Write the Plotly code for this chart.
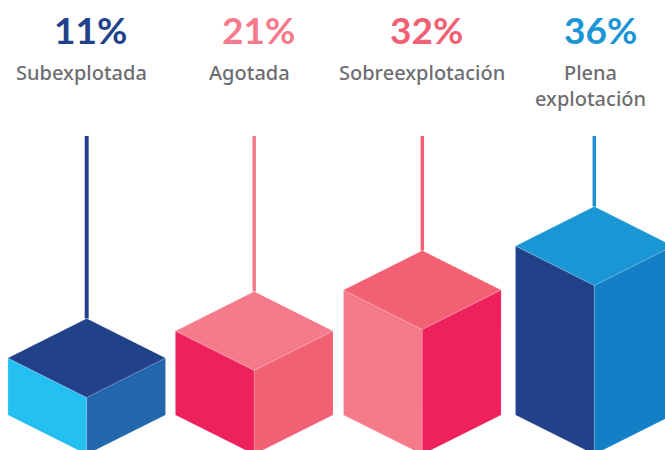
import plotly.graph_objects as go

# Data
categories = ["Subexplotada", "Agotada", "Sobreexplotación", "Plena<br>explotación"]
percent_labels = ["11%", "21%", "32%", "36%"]
box_heights = [57, 84, 125, 169]  # drawn height of each column
stem_top = 279

# Position along the x axis and styling
centers = [86.7, 254.2, 422.3, 594.3]
pct_x = [90.5, 258.3, 426.2, 600]
label_x = [81.5, 249.2, 422, 590.7]
half_w = 78.8
half_h = 39.4
top_colors = ["#21428b", "#f47a8c", "#f26073", "#1a96d5"]
left_colors = ["#25c0f2", "#ee215c", "#f47a8c", "#21428b"]
right_colors = ["#2266ae", "#f26073", "#ee215c", "#137fc6"]
stem_colors = ["#21428b", "#f47a8c", "#f26073", "#1f8fd0"]
pct_colors = ["#21428b", "#f47a8c", "#f26073", "#1a96d5"]
stem_widths = [4, 3.5, 3.5, 3.5]
label_color = "#6d6e71"

fig = go.Figure()
edge = dict(color="rgba(255,255,255,0.25)", width=0.6)


def face(xs, ys, color):
    fig.add_trace(go.Scatter(x=xs, y=ys, mode="lines", fill="toself", fillcolor=color,
                             line=edge, hoverinfo="skip", showlegend=False))


for i, h in enumerate(box_heights):
    c = centers[i]
    # stem
    fig.add_trace(go.Scatter(x=[c, c], y=[stem_top, h + half_h], mode="lines",
                             line=dict(color=stem_colors[i], width=stem_widths[i]),
                             hoverinfo="skip", showlegend=False))
    # left face
    face([c - half_w, c, c, c - half_w, c - half_w],
         [h, h - half_h, -half_h, 0, h], left_colors[i])
    # right face
    face([c, c + half_w, c + half_w, c, c],
         [h - half_h, h, 0, -half_h, h - half_h], right_colors[i])
    # top face
    face([c - half_w, c, c + half_w, c, c - half_w],
         [h, h + half_h, h, h - half_h, h], top_colors[i])

Y_BASE = 415  # pixel row of the column bases
annotations = []
for i in range(4):
    annotations.append(dict(x=pct_x[i], y=Y_BASE - 29, text=percent_labels[i], showarrow=False,
                            xanchor="center", yanchor="middle",
                            font=dict(family="Lato", size=37, color=pct_colors[i], weight=700),
                            xref="x", yref="y"))
    annotations.append(dict(x=label_x[i], y=Y_BASE - 57, text=categories[i], showarrow=False,
                            xanchor="center", yanchor="top", align="center",
                            font=dict(family="Noto Sans", size=20, color=label_color, weight=500),
                            xref="x", yref="y"))

fig.update_layout(
    width=665, height=450,
    margin=dict(l=0, r=0, t=0, b=0),
    paper_bgcolor="white", plot_bgcolor="white",
    showlegend=False,
    annotations=annotations,
    xaxis=dict(range=[0, 665], visible=False, fixedrange=True),
    yaxis=dict(range=[-35, 415], visible=False, fixedrange=True),
)
fig.write_html("out.html", config={"displayModeBar": False},
               post_script="document.body.style.margin='0';document.documentElement.style.overflow='hidden';")
